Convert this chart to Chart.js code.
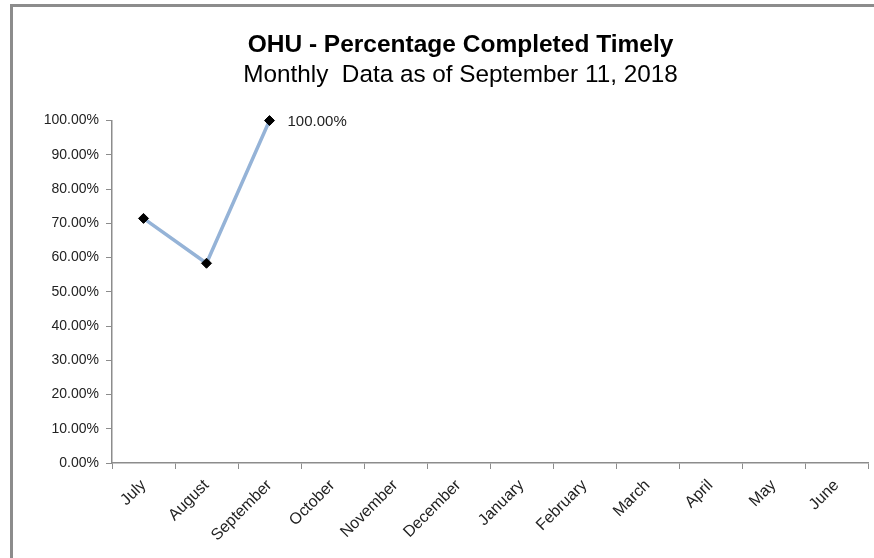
<!DOCTYPE html>
<html>
<head>
<meta charset="utf-8">
<script src="https://cdn.jsdelivr.net/npm/chart.js@4"></script>
<style>
    html, body { margin: 0; padding: 0; background: #fff; }
    #wrap { position: relative; width: 874px; height: 558px; overflow: hidden; }
    #frame {
        position: absolute; left: 10px; top: 4px; width: 900px; height: 600px;
        border-left: 3px solid #8c8c8c; border-top: 3px solid #8c8c8c;
        pointer-events: none;
    }
    canvas { position: absolute; left: 0; top: 0; }
</style>
</head>
<body>
<div id="wrap">
    <canvas id="chart" width="874" height="558"></canvas>
    <div id="frame"></div>
</div>
<script>
(function () {
    // --- data ---
    const months = ['July', 'August', 'September', 'October', 'November', 'December',
        'January', 'February', 'March', 'April', 'May', 'June'];
    const pctTimely = [71.43, 58.33, 100, null, null, null, null, null, null, null, null, null];
    const yTicks = [0, 10, 20, 30, 40, 50, 60, 70, 80, 90, 100];

    const font = 'Liberation Sans, Arial, sans-serif';
    const axisColor = '#8c8c8c';
    const padL = 30;
    const fmt = v => Number(v).toFixed(2) + '%';

    // only the latest point gets a value label
    const lastLabel = {
        id: 'lastLabel',
        afterDatasetsDraw(chart) {
            const meta = chart.getDatasetMeta(0);
            let idx = -1;
            pctTimely.forEach((v, i) => { if (v !== null) idx = i; });
            if (idx < 0) return;
            const pt = meta.data[idx];
            const ctx = chart.ctx;
            ctx.save();
            ctx.font = '15px ' + font;
            ctx.fillStyle = '#222';
            ctx.textAlign = 'left';
            ctx.textBaseline = 'middle';
            ctx.fillText(fmt(pctTimely[idx]), pt.x + 18, pt.y + 1);
            ctx.restore();
        }
    };

    // titles sit a bit right of the canvas centre in the original
    const nudgeTitles = {
        id: 'nudgeTitles',
        afterLayout(chart) {
            chart.boxes.forEach(b => {
                if (b.options && b.options.text && b.position === 'top') {
                    b.left += 10;
                    b.right += 10;
                }
            });
        }
    };

    new Chart(document.getElementById('chart'), {
        type: 'line',
        data: {
            labels: months,
            datasets: [{
                label: 'Percentage Completed Timely',
                data: pctTimely,
                borderColor: '#95b3d7',
                borderWidth: 3.5,
                tension: 0,
                clip: false,
                pointStyle: 'rectRot',
                pointRadius: 5,
                pointBackgroundColor: '#000',
                pointBorderColor: '#000',
                pointBorderWidth: 1
            }]
        },
        options: {
            responsive: false,
            animation: false,
            layout: { padding: { left: padL, right: 3, top: 0, bottom: 3 } },
            plugins: {
                legend: { display: false },
                tooltip: { enabled: false },
                title: {
                    display: true,
                    text: 'OHU - Percentage Completed Timely',
                    color: '#000',
                    font: { family: font, size: 24.5, weight: 'bold' },
                    padding: { top: 31, bottom: 0 }
                },
                subtitle: {
                    display: true,
                    text: 'Monthly  Data as of September 11, 2018',
                    color: '#000',
                    font: { family: font, size: 24.3 },
                    padding: { top: 0, bottom: 31 }
                }
            },
            scales: {
                x: {
                    offset: true,
                    afterFit: s => { s.height = 92; },
                    grid: { display: true, offset: true, drawOnChartArea: false, drawTicks: true, tickLength: 6, color: axisColor },
                    border: { display: true, color: axisColor, width: 1.5 },
                    ticks: {
                        color: '#222',
                        font: { family: font, size: 16 },
                        minRotation: 45,
                        maxRotation: 45,
                        autoSkip: false,
                        padding: 7
                    }
                },
                y: {
                    min: 0,
                    max: 100,
                    afterFit: s => { s.width = 112 - padL; },
                    afterBuildTicks: s => { s.ticks = yTicks.map(v => ({ value: v })); },
                    grid: { display: true, drawOnChartArea: false, drawTicks: true, tickLength: 6, color: axisColor },
                    border: { display: true, color: axisColor, width: 1.5 },
                    ticks: {
                        color: '#222',
                        font: { family: font, size: 14 },
                        padding: 7,
                        callback: v => fmt(v)
                    }
                }
            }
        },
        plugins: [lastLabel, nudgeTitles]
    });
})();
</script>
</body>
</html>
